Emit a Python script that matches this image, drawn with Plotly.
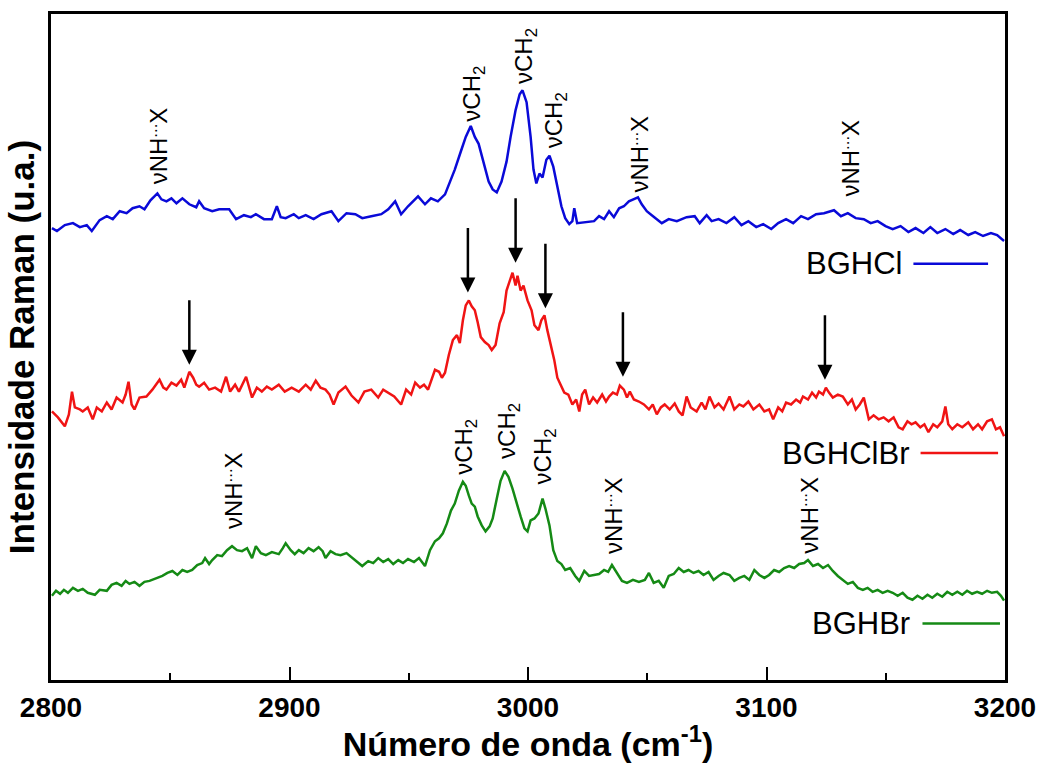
import plotly.graph_objects as go

# ---------------- data ----------------
# Wavenumber (cm-1) and Raman intensity (arbitrary units, offset spectra)
bghcl_x = [2800.4, 2802.5, 2805.8, 2809.2, 2812.1, 2815.0, 2817.1, 2820.4, 2823.4, 2825.9,
           2828.8, 2831.7, 2834.2, 2837.1, 2839.2, 2841.7, 2844.6, 2846.3, 2848.4, 2850.5,
           2852.6, 2855.1, 2858.0, 2860.9, 2862.1, 2864.2, 2867.6, 2870.5, 2874.7, 2877.6,
           2880.9, 2883.8, 2885.9, 2889.3, 2892.6, 2894.7, 2896.3, 2898.4, 2901.8, 2903.9,
           2906.8, 2910.1, 2913.4, 2917.6, 2920.5, 2923.9, 2927.6, 2930.5, 2934.3, 2938.5,
           2941.4, 2944.3, 2946.8, 2949.7, 2953.9, 2956.8, 2959.3, 2962.2, 2965.2, 2967.3,
           2969.3, 2971.8, 2973.9, 2976.0, 2977.7, 2979.3, 2981.4, 2983.5, 2985.2, 2986.9,
           2988.9, 2991.0, 2992.7, 2994.8, 2996.5, 2997.7, 2999.4, 3001.1, 3002.3, 3003.5,
           3004.8, 3006.1, 3007.7, 3009.0, 3010.6, 3012.3, 3014.0, 3015.6, 3017.3, 3018.6,
           3019.4, 3020.6, 3024.0, 3027.7, 3029.8, 3031.9, 3034.0, 3036.0, 3038.2, 3040.2,
           3042.3, 3044.4, 3046.1, 3047.7, 3049.8, 3051.9, 3054.0, 3056.1, 3059.0, 3062.4,
           3066.5, 3069.9, 3072.0, 3074.9, 3077.0, 3079.9, 3083.2, 3086.5, 3089.5, 3092.4,
           3095.7, 3098.6, 3102.0, 3104.9, 3108.2, 3111.2, 3114.5, 3117.4, 3120.8, 3124.1,
           3128.3, 3131.2, 3134.1, 3137.4, 3140.8, 3143.7, 3146.6, 3149.9, 3152.9, 3156.2,
           3159.5, 3162.5, 3165.8, 3168.7, 3171.6, 3175.0, 3178.3, 3181.2, 3184.6, 3187.5,
           3190.8, 3194.1, 3196.7, 3199.6]
bghcl_y = [456, 453, 459, 461, 457, 459, 453, 464, 468, 465,
           473, 471, 476, 478, 475, 484, 491, 485, 483, 486,
           481, 486, 480, 477, 483, 476, 473, 475, 475, 465,
           469, 467, 470, 465, 465, 478, 467, 466, 470, 466,
           469, 465, 470, 473, 463, 471, 470, 466, 468, 470,
           475, 483, 470, 478, 488, 480, 486, 483, 490, 503,
           515, 533, 548, 559, 548, 541, 523, 503, 495, 492,
           503, 523, 548, 575, 591, 595, 583, 548, 515, 501,
           511, 507, 525, 529, 518, 498, 478, 466, 460, 463,
           476, 461, 462, 463, 468, 465, 473, 467, 476, 478,
           483, 485, 487, 480, 473, 469, 465, 461, 465, 463,
           467, 468, 461, 469, 463, 465, 461, 467, 459, 463,
           457, 460, 455, 461, 465, 461, 468, 465, 470, 471,
           474, 468, 471, 466, 465, 461, 463, 458, 455, 458,
           452, 456, 451, 457, 451, 455, 450, 454, 449, 452,
           448, 451, 449, 443]

bghclbr_x = [2800.4, 2802.9, 2805.8, 2807.5, 2808.8, 2810.0, 2812.1, 2813.3, 2815.4, 2817.5,
             2819.2, 2821.3, 2823.4, 2825.4, 2827.5, 2830.0, 2831.3, 2832.5, 2833.8, 2835.0,
             2837.1, 2840.0, 2842.5, 2845.5, 2847.1, 2848.4, 2850.5, 2852.6, 2854.6, 2855.9,
             2858.0, 2859.6, 2860.9, 2862.1, 2864.2, 2866.3, 2868.8, 2871.3, 2873.4, 2875.1,
             2877.2, 2878.8, 2881.8, 2884.3, 2886.3, 2888.4, 2890.5, 2892.6, 2895.5, 2898.0,
             2900.9, 2903.9, 2906.8, 2908.9, 2911.0, 2913.0, 2915.1, 2916.8, 2918.5, 2920.5,
             2923.5, 2926.0, 2928.9, 2931.4, 2934.3, 2937.2, 2939.3, 2941.4, 2943.9, 2946.8,
             2948.9, 2951.0, 2952.7, 2954.7, 2956.4, 2958.1, 2959.7, 2961.0, 2962.7, 2963.9,
             2965.2, 2966.8, 2968.5, 2970.2, 2971.4, 2972.7, 2973.9, 2975.2, 2976.4, 2977.7,
             2978.9, 2980.2, 2981.9, 2983.5, 2984.8, 2986.4, 2988.1, 2989.8, 2991.0, 2992.3,
             2993.5, 2994.8, 2995.6, 2996.9, 2998.1, 2999.8, 3001.5, 3002.7, 3004.4, 3005.6,
             3006.9, 3008.1, 3009.4, 3011.0, 3012.3, 3013.5, 3015.2, 3016.9, 3018.6, 3020.2,
             3021.5, 3022.7, 3024.0, 3025.6, 3027.3, 3029.0, 3031.1, 3032.7, 3034.0, 3035.6,
             3037.3, 3038.5, 3040.2, 3041.5, 3042.7, 3044.4, 3046.5, 3048.6, 3050.7, 3052.3,
             3054.0, 3055.7, 3057.3, 3059.4, 3061.5, 3063.2, 3064.8, 3066.5, 3068.2, 3070.7,
             3072.8, 3074.4, 3076.1, 3078.2, 3079.9, 3082.0, 3084.5, 3086.5, 3088.6, 3090.3,
             3092.4, 3094.5, 3097.0, 3099.1, 3101.1, 3102.8, 3104.9, 3106.6, 3108.2, 3110.3,
             3112.4, 3114.1, 3115.3, 3117.4, 3119.1, 3120.8, 3122.0, 3123.7, 3124.9, 3126.2,
             3127.8, 3129.9, 3132.0, 3134.1, 3135.8, 3137.4, 3139.1, 3140.8, 3142.9, 3144.9,
             3147.0, 3149.1, 3151.2, 3153.3, 3155.4, 3157.1, 3159.1, 3160.8, 3162.5, 3164.5,
             3166.2, 3167.9, 3169.9, 3171.6, 3173.7, 3175.0, 3176.2, 3177.9, 3180.0, 3182.1,
             3184.6, 3186.6, 3188.7, 3190.4, 3192.5, 3194.5, 3196.2, 3197.9, 3199.6]
bghclbr_y = [271, 265, 256, 268, 291, 275, 273, 271, 275, 263,
             275, 271, 280, 273, 285, 280, 288, 301, 278, 273,
             285, 286, 293, 303, 295, 293, 300, 297, 303, 295,
             311, 305, 298, 296, 300, 293, 295, 291, 306, 291,
             298, 291, 306, 285, 295, 291, 296, 293, 298, 291,
             295, 291, 298, 293, 302, 295, 293, 288, 278, 290,
             296, 287, 280, 291, 293, 285, 293, 290, 286, 278,
             293, 288, 300, 295, 298, 293, 303, 313, 311, 305,
             310, 328, 343, 348, 340, 363, 378, 383, 377, 373,
             361, 346, 341, 338, 333, 338, 360, 371, 393, 403,
             411, 398, 408, 393, 398, 383, 373, 358, 353, 363,
             368, 353, 340, 323, 305, 298, 290, 288, 278, 283,
             271, 288, 293, 278, 285, 280, 288, 281, 286, 290,
             288, 297, 293, 285, 291, 283, 281, 278, 273, 278,
             268, 275, 278, 273, 279, 271, 267, 286, 275, 271,
             280, 273, 286, 275, 279, 273, 286, 273, 278, 276,
             281, 273, 278, 271, 273, 263, 275, 271, 280, 278,
             283, 280, 286, 283, 290, 285, 291, 288, 295, 290,
             285, 288, 286, 278, 283, 273, 278, 285, 263, 267,
             263, 265, 261, 265, 255, 253, 261, 258, 260, 255,
             258, 250, 258, 255, 261, 276, 258, 253, 258, 255,
             260, 253, 258, 253, 261, 263, 253, 255, 246]

bghbr_x = [2800.4, 2802.1, 2803.8, 2805.4, 2807.1, 2809.2, 2811.3, 2813.3, 2815.4, 2818.4,
           2820.4, 2823.4, 2825.4, 2827.5, 2829.6, 2831.3, 2832.9, 2835.0, 2837.1, 2839.2,
           2841.3, 2844.2, 2846.7, 2848.8, 2850.9, 2853.0, 2855.1, 2857.1, 2859.2, 2861.3,
           2863.4, 2864.6, 2866.3, 2867.6, 2869.7, 2871.7, 2873.8, 2875.9, 2878.0, 2880.1,
           2882.2, 2884.3, 2885.9, 2888.0, 2890.1, 2892.6, 2895.5, 2897.2, 2898.4, 2900.5,
           2902.2, 2903.9, 2905.9, 2908.0, 2910.1, 2912.2, 2913.9, 2915.1, 2917.2, 2919.3,
           2921.4, 2923.9, 2926.4, 2928.9, 2930.5, 2933.0, 2935.1, 2937.2, 2939.3, 2941.4,
           2943.5, 2945.6, 2947.6, 2949.7, 2952.2, 2954.3, 2956.8, 2958.9, 2961.0, 2962.7,
           2964.3, 2966.0, 2967.7, 2969.3, 2971.0, 2972.7, 2973.9, 2975.2, 2976.4, 2977.7,
           2978.9, 2980.6, 2982.2, 2983.9, 2985.2, 2986.9, 2988.5, 2990.2, 2991.8, 2993.5,
           2995.2, 2996.9, 2998.5, 2999.8, 3001.1, 3002.7, 3004.4, 3006.1, 3007.3, 3009.0,
           3010.6, 3012.3, 3014.0, 3015.6, 3017.7, 3019.8, 3021.5, 3023.6, 3025.6, 3027.7,
           3029.8, 3031.9, 3033.6, 3035.2, 3037.3, 3039.4, 3041.5, 3044.0, 3046.5, 3049.0,
           3050.7, 3052.7, 3054.8, 3056.9, 3059.0, 3061.1, 3063.2, 3065.3, 3067.3, 3069.4,
           3071.5, 3073.6, 3075.7, 3077.8, 3079.9, 3082.0, 3084.5, 3086.5, 3088.6, 3090.7,
           3092.8, 3094.9, 3097.0, 3099.1, 3101.1, 3103.2, 3105.3, 3107.4, 3109.5, 3111.6,
           3113.7, 3115.8, 3117.4, 3119.5, 3121.6, 3123.7, 3125.8, 3127.8, 3129.9, 3132.0,
           3134.1, 3136.2, 3138.3, 3140.4, 3142.4, 3144.5, 3146.6, 3148.7, 3150.8, 3152.9,
           3155.0, 3157.1, 3159.1, 3161.2, 3163.3, 3165.4, 3167.5, 3169.5, 3171.6, 3173.7,
           3175.8, 3177.9, 3180.0, 3182.1, 3184.1, 3186.2, 3188.3, 3190.4, 3192.5, 3194.5,
           3196.7, 3198.3, 3199.6]
bghbr_y = [85, 90, 87, 91, 88, 93, 90, 92, 88, 86,
           91, 90, 96, 98, 95, 100, 97, 99, 95, 99,
           100, 103, 105, 108, 110, 106, 111, 109, 111, 116,
           118, 123, 117, 121, 126, 125, 131, 135, 131, 130,
           133, 123, 135, 128, 126, 129, 127, 133, 138, 131,
           127, 131, 128, 133, 130, 134, 130, 123, 130, 127,
           126, 128, 123, 118, 115, 120, 118, 123, 119, 122,
           117, 121, 118, 122, 119, 123, 115, 131, 140, 143,
           148, 158, 171, 178, 191, 200, 196, 186, 178, 175,
           165, 156, 150, 155, 163, 183, 201, 211, 205, 193,
           178, 165, 153, 150, 161, 163, 168, 183, 173, 156,
           131, 120, 117, 111, 113, 105, 100, 110, 105, 106,
           107, 111, 109, 116, 108, 100, 98, 101, 99, 101,
           108, 98, 100, 93, 105, 107, 113, 109, 111, 108,
           110, 106, 109, 101, 105, 108, 106, 100, 103, 105,
           101, 111, 106, 103, 106, 111, 109, 113, 115, 113,
           117, 118, 121, 115, 117, 113, 116, 110, 105, 101,
           97, 99, 93, 91, 93, 89, 91, 88, 90, 88,
           85, 88, 83, 81, 85, 82, 86, 83, 87, 84,
           89, 86, 89, 86, 90, 87, 89, 87, 90, 88,
           89, 85, 80]

series_names = ["BGHCl", "BGHClBr", "BGHBr"]
series_colors = ["#0a0ad8", "#f01414", "#158a15"]

# band labels (text, wavenumber, intensity at label foot)
NH = "νNH<sup>...</sup>X"
CH = "νCH<sub>2</sub>"
label_text = [NH, CH, CH, CH, NH, NH,
              NH, CH, CH, CH, NH, NH]
label_x = [2844.6, 2976.8, 2999.0, 3011.5, 3046.0, 3134.5,
           2876.0, 2974.0, 2992.0, 3007.0, 3035.0, 3117.0]
label_y = [498, 561, 599, 535, 490, 486,
           150, 205, 221, 195, 125, 125]

# arrows marking bands in BGHClBr (wavenumber, intensity of arrow tip)
arrow_x = [2858.0, 2974.8, 2994.8, 3007.3, 3039.8, 3124.5]
arrow_y = [318, 391, 421, 375, 306, 303]

# legend positions (wavenumber of text right edge, intensity)
legend_text_x = [3157.5, 3160.4, 3161.2]
legend_line_x0 = [3161.6, 3164.6, 3165.4]
legend_line_x1 = [3192.9, 3197.1, 3197.9]
legend_y = [420, 229, 57]

xticks = [2800, 2900, 3000, 3100, 3200]

# ---------------- figure ----------------
fig = go.Figure()
for xs, ys, name, col in zip([bghcl_x, bghclbr_x, bghbr_x],
                             [bghcl_y, bghclbr_y, bghbr_y],
                             series_names, series_colors):
    fig.add_trace(go.Scatter(x=xs, y=ys, mode="lines", name=name,
                             line=dict(color=col, width=2.5), showlegend=False))

for t, x, y in zip(label_text, label_x, label_y):
    fig.add_annotation(x=x, y=y, text=t, textangle=-90, showarrow=False,
                       xanchor="center", yanchor="bottom",
                       font=dict(family="Liberation Sans, Arial", size=24, color="black"))

for x, y in zip(arrow_x, arrow_y):
    fig.add_annotation(x=x, y=y, text="", showarrow=True, ax=0, ay=-66,
                       arrowhead=2, arrowsize=1.2, arrowwidth=2.5, arrowcolor="black")

for name, col, tx, lx0, lx1, ly in zip(series_names, series_colors, legend_text_x,
                                       legend_line_x0, legend_line_x1, legend_y):
    fig.add_annotation(x=tx, y=ly, text=name, showarrow=False, xanchor="right",
                       yanchor="middle",
                       font=dict(family="Liberation Sans, Arial", size=31, color="black"))
    fig.add_shape(type="line", x0=lx0, x1=lx1, y0=ly, y1=ly, xref="x", yref="y",
                  line=dict(color=col, width=2.5))

axis_font = dict(family="Liberation Sans, Arial", size=28, color="black")
fig.update_layout(
    width=1047, height=763,
    margin=dict(l=51, r=37, t=11, b=80, pad=0),
    paper_bgcolor="white", plot_bgcolor="white",
    font=dict(family="Liberation Sans, Arial", color="black"),
    xaxis=dict(range=[2800, 3200], tickvals=xticks,
               ticktext=["<b>%d</b>" % v for v in xticks],
               ticks="inside", ticklen=13, tickwidth=2, tickcolor="black",
               minor=dict(dtick=50, ticks="inside", ticklen=7, tickwidth=2, tickcolor="black"),
               showline=True, linewidth=3, linecolor="black", mirror=True,
               showgrid=False, zeroline=False, tickfont=axis_font,
               title=dict(text="<b>Número de onda (cm<sup>-1</sup>)</b>", standoff=6,
                          font=dict(family="Liberation Sans, Arial", size=34, color="black"))),
    yaxis=dict(range=[0, 672], showticklabels=False, ticks="",
               showline=True, linewidth=3, linecolor="black", mirror=True,
               showgrid=False, zeroline=False,
               title=dict(text="<b>Intensidade Raman (u.a.)</b>", standoff=3,
                          font=dict(family="Liberation Sans, Arial", size=35, color="black"))),
)

fig.write_html("out.html")
